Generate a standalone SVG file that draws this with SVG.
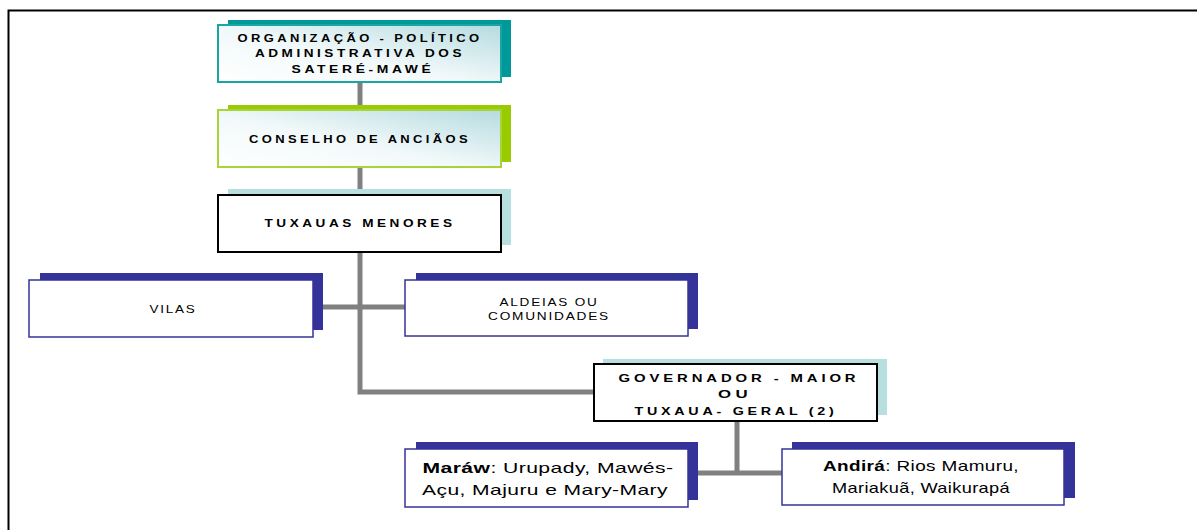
<svg xmlns="http://www.w3.org/2000/svg" width="1197" height="530" viewBox="0 0 1197 530">
<defs>
<linearGradient id="g" x1="0" y1="1" x2="1" y2="0">
<stop offset="0" stop-color="#ffffff"/>
<stop offset="0.45" stop-color="#f2f9fa"/>
<stop offset="1" stop-color="#b5dbe0"/>
</linearGradient>
</defs>
<style>
.conn{stroke:#808080;stroke-width:5;fill:none}
.hd{font-family:"Liberation Sans",Arial,sans-serif;font-weight:bold;font-size:11.5px;letter-spacing:3px;fill:#000;text-anchor:middle}
.nm{font-family:"Liberation Sans",Arial,sans-serif;font-size:11.5px;letter-spacing:1.5px;fill:#000;text-anchor:middle}
.lg{font-family:"Liberation Sans",Arial,sans-serif;font-size:15px;letter-spacing:0.3px;fill:#000;text-anchor:middle}
.navy{fill:#333399}
.navyb{fill:#fff;stroke:#333399;stroke-width:1.5}
.blk{fill:#fff;stroke:#000;stroke-width:2}
.lb{fill:#b7dfe0}
</style>
<rect x="0" y="0" width="1197" height="530" fill="#fff"/>
<path d="M8.5,530 V10.5 H1197" fill="none" stroke="#000" stroke-width="2"/>
<g id="connectors">
<path class="conn" d="M360,82 V392 H595"/>
<path class="conn" d="M313,307 H405"/>
<path class="conn" d="M737,421 V473"/>
<path class="conn" d="M688,473 H782"/>
</g>
<g id="n1">
<rect x="228" y="20" width="283" height="57" fill="#009999"/>
<rect x="218" y="25" width="283" height="57" fill="url(#g)" stroke="#1aa5a5" stroke-width="2"/>
<text class="hd" x="360" y="42" textLength="245" lengthAdjust="spacingAndGlyphs">ORGANIZAÇÃO - POLÍTICO</text>
<text class="hd" x="360" y="57" textLength="210" lengthAdjust="spacingAndGlyphs">ADMINISTRATIVA DOS</text>
<text class="hd" x="363" y="73" textLength="143" lengthAdjust="spacingAndGlyphs">SATERÉ-MAWÉ</text>
</g>
<g id="n2">
<rect x="228" y="105" width="283" height="57" fill="#99cc00"/>
<rect x="218" y="110" width="283" height="57" fill="url(#g)" stroke="#a8d43a" stroke-width="2"/>
<text class="hd" x="360" y="143" textLength="222" lengthAdjust="spacingAndGlyphs">CONSELHO DE ANCIÃOS</text>
</g>
<g id="n3">
<rect class="lb" x="228" y="189" width="283" height="56"/>
<rect class="blk" x="218" y="195" width="283" height="57"/>
<text class="hd" x="360" y="227" textLength="191" lengthAdjust="spacingAndGlyphs">TUXAUAS MENORES</text>
</g>
<g id="n4">
<rect class="navy" x="40" y="273" width="283" height="57"/>
<rect class="navyb" x="29" y="280" width="284" height="57"/>
<text class="nm" x="173" y="313" textLength="47" lengthAdjust="spacingAndGlyphs">VILAS</text>
</g>
<g id="n5">
<rect class="navy" x="416" y="273" width="282" height="56"/>
<rect class="navyb" x="405" y="280" width="283" height="56"/>
<text class="nm" x="549" y="306" textLength="99" lengthAdjust="spacingAndGlyphs">ALDEIAS OU</text>
<text class="nm" x="549" y="320" textLength="122" lengthAdjust="spacingAndGlyphs">COMUNIDADES</text>
</g>
<g id="n6">
<rect class="lb" x="603" y="359" width="284" height="56"/>
<rect class="blk" x="594" y="364" width="283" height="57"/>
<text class="hd" x="739" y="382" textLength="241" lengthAdjust="spacingAndGlyphs">GOVERNADOR - MAIOR</text>
<text class="hd" x="735" y="398" textLength="34" lengthAdjust="spacingAndGlyphs">OU</text>
<text class="hd" x="736" y="415" textLength="203" lengthAdjust="spacingAndGlyphs">TUXAUA- GERAL (2)</text>
</g>
<g id="n7">
<rect class="navy" x="416" y="442" width="282" height="58"/>
<rect class="navyb" x="405" y="449" width="283" height="58"/>
<text class="lg" x="548" y="473" textLength="251" lengthAdjust="spacingAndGlyphs"><tspan font-weight="bold">Maráw</tspan>: Urupady, Mawés-</text>
<text class="lg" x="545" y="495" textLength="246" lengthAdjust="spacingAndGlyphs">Açu, Majuru e Mary-Mary</text>
</g>
<g id="n8">
<rect class="navy" x="792" y="442" width="283" height="56"/>
<rect class="navyb" x="782" y="449" width="282" height="56"/>
<text class="lg" x="921" y="471" textLength="196" lengthAdjust="spacingAndGlyphs"><tspan font-weight="bold">Andirá</tspan>: Rios Mamuru,</text>
<text class="lg" x="921" y="493" textLength="178" lengthAdjust="spacingAndGlyphs">Mariakuã, Waikurapá</text>
</g>
</svg>
